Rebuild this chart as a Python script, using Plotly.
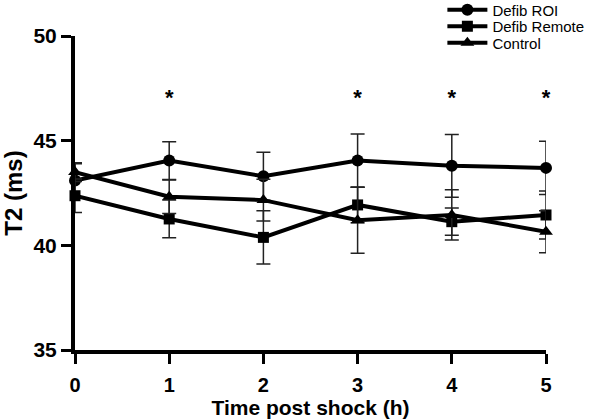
import plotly.graph_objects as go

hours = [0, 1, 2, 3, 4, 5]
roi = [43.1, 44.05, 43.3, 44.05, 43.8, 43.7]
roi_err = [0.8, 0.9, 1.15, 1.27, 1.5, 1.27]
remote = [42.37, 41.26, 40.38, 41.93, 41.13, 41.45]
remote_err = [0.8, 0.9, 1.27, 0.85, 0.65, 1.15]
control = [43.5, 42.32, 42.16, 41.2, 41.45, 40.65]
control_err = [0.45, 0.8, 1.0, 1.58, 1.2, 1.0]
star_hours = [1, 3, 4, 5]
star_level = 46.95

fig = go.Figure()
series = [
    ("Defib ROI", roi, roi_err, "circle", 12, "legend"),
    ("Defib Remote", remote, remote_err, "square", 11, "legend2"),
    ("Control", control, control_err, "triangle-up", 12, "legend3"),
]
for name, vals, err, sym, sz, lg in series:
    fig.add_trace(go.Scatter(
        x=hours, y=vals, name=name, mode="lines+markers",
        line=dict(color="black", width=4),
        marker=dict(symbol=sym, size=sz, color="black"),
        error_y=dict(type="data", array=err, visible=True, color="#222222",
                     thickness=1.5, width=7),
        cliponaxis=False, legend=lg,
    ))

fig.add_trace(go.Scatter(
    x=star_hours, y=[star_level] * len(star_hours), mode="text",
    text=["<b>*</b>"] * len(star_hours), textfont=dict(size=22, color="black", family="Arial"),
    showlegend=False, cliponaxis=False,
))

def leg(yv):
    return dict(x=0.78, y=yv, xanchor="left", yanchor="middle",
                font=dict(size=15, family="Arial", color="black"),
                bgcolor="rgba(0,0,0,0)", itemwidth=40)

fig.update_layout(
    width=600, height=420,
    margin=dict(l=75, r=54, t=36, b=70, autoexpand=False),
    plot_bgcolor="white", paper_bgcolor="white",
    font=dict(family="Arial", color="black"),
    showlegend=True,
    legend=leg(1.083), legend2=leg(1.030), legend3=leg(0.978),
    xaxis=dict(range=[0, 5], tickvals=hours, showline=True, linewidth=4,
               linecolor="black", ticks="outside", ticklen=10, tickwidth=3,
               tickcolor="black", showgrid=False, zeroline=False,
               ticklabelstandoff=4,
               tickfont=dict(size=20, family="Arial", color="black", weight="bold"),
               title=dict(text="<b>Time post shock (h)</b>", font=dict(size=21), standoff=3)),
    yaxis=dict(range=[35, 50], tickvals=[35, 40, 45, 50], showline=True, linewidth=4,
               linecolor="black", ticks="outside", ticklen=10, tickwidth=3,
               tickcolor="black", showgrid=False, zeroline=False,
               ticklabelstandoff=0,
               tickfont=dict(size=21, family="Arial", color="black", weight="bold"),
               title=dict(text="<b>T2 (ms)</b>", font=dict(size=24), standoff=12)),
)
fig.write_html("out.html", config={"displayModeBar": False},
               post_script="document.body.style.margin='0px';")
